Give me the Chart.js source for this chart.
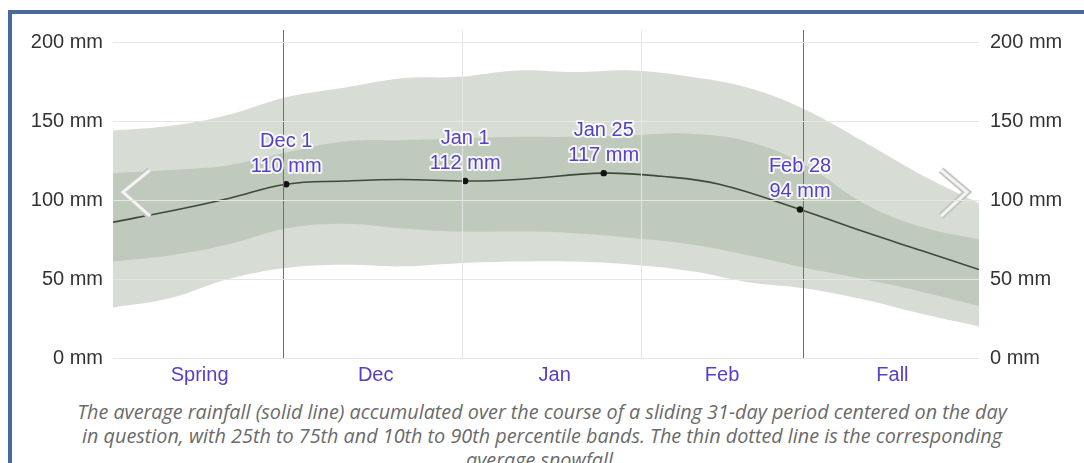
<!DOCTYPE html>
<html>
<head>
<meta charset="utf-8">
<script src="https://cdn.jsdelivr.net/npm/chart.js@4"></script>
<style>
    body{margin:0;background:#fff;width:1084px;height:463px;overflow:hidden;position:relative;}
    .frame{position:absolute;left:8px;top:10px;width:1090px;height:470px;border-left:4px solid #4a6a9b;border-top:4px solid #4a6a9b;}
    .chart-box{position:absolute;left:0;top:0;width:1084px;height:395px;}
    .caption{position:absolute;left:0;top:400px;width:1084px;text-align:center;font-family:"Open Sans",sans-serif;font-style:italic;font-size:19.8px;line-height:24px;color:#6a6a6a;white-space:nowrap;}
</style>
</head>
<body>
<div class="frame"></div>
<div class="chart-box"><canvas id="rainChart"></canvas></div>
<div class="caption">The average rainfall (solid line) accumulated over the course of a sliding 31-day period centered on the day<br>in question, with 25th to 75th and 10th to 90th percentile bands. The thin dotted line is the corresponding<br>average snowfall.</div>
<script>
    // 日数 (Nov 1 = 0)
    var days = [0,10,20,30,40,50,60,70,80,90,100,110,120,130,140,150];
    var p90 = [144,147,154,165,171,177,178,182,181,182,178,171,157,137,116,98];
    var p75 = [117,119,122,130,137,138,139,140,140,141,142,137,122,98,83,75];
    var p25 = [61,65,72,82,85,82,80,80,79,76,72,65,57,50,42,33];
    var p10 = [32,38,50,57,59,58,60,61,61,59,55,48,44,37,28,20];

    var meanDays = [0,10,20,30,40,50,61,70,85,95,105,119,130,140,150];
    var meanMm = [86,93,101,110,112,113,112,113,117,115,110,94,80,68,56];

    var markDays = [30,61,85,119];
    var markNames = ['Dec 1','Jan 1','Jan 25','Feb 28'];
    var markMm = [110,112,117,94];

    var seasonDays = [15,45.5,76.5,105.5,135];
    var seasonNames = ['Spring','Dec','Jan','Feb','Fall'];
    var seasonEdges = [29.5,119.5];
    var monthEdges = [60.5,91.5];
    var mmTicks = [0,50,100,150,200];

    function pts(xs, ys){
        var out = [];
        for(var i=0;i<xs.length;i++){ out.push({x:xs[i], y:ys[i]}); }
        return out;
    }

    var purple = '#5540c6';
    var font = '"Liberation Sans", Arial, sans-serif';

    /*****縦線とラベル*****/
    var decoPlugin = {
        id:'deco',
        afterDatasetsDraw:function(chart){
            var ctx = chart.ctx, xs = chart.scales.x, ys = chart.scales.y, a = chart.chartArea;
            ctx.save();
            ctx.lineWidth = 1;
            ctx.strokeStyle = '#e3e6e2';
            monthEdges.forEach(function(d){
                var px = Math.round(xs.getPixelForValue(d))+0.5;
                ctx.beginPath(); ctx.moveTo(px, a.top-12); ctx.lineTo(px, a.bottom); ctx.stroke();
            });
            ctx.strokeStyle = '#6f6f6f';
            seasonEdges.forEach(function(d){
                var px = Math.round(xs.getPixelForValue(d))+0.5;
                ctx.beginPath(); ctx.moveTo(px, a.top-12); ctx.lineTo(px, a.bottom); ctx.stroke();
            });
            // chevrons
            var midY = ys.getPixelForValue(105);
            function chevron(x0, x1){
                ctx.lineJoin = 'miter';
                ctx.beginPath(); ctx.moveTo(x1, midY-22); ctx.lineTo(x0, midY); ctx.lineTo(x1, midY+24);
                ctx.strokeStyle = '#c4c7c3'; ctx.lineWidth = 7; ctx.stroke();
                ctx.strokeStyle = '#f4f5f3'; ctx.lineWidth = 3; ctx.stroke();
            }
            chevron(a.left+10, a.left+37);
            chevron(a.right-12, a.right-38);
            ctx.restore();
        },
        afterDraw:function(chart){
            var ctx = chart.ctx, xs = chart.scales.x, ys = chart.scales.y;
            ctx.save();
            ctx.font = '20px ' + font;
            ctx.textAlign = 'center';
            ctx.textBaseline = 'middle';
            ctx.lineJoin = 'round';
            for(var i=0;i<markDays.length;i++){
                var px = xs.getPixelForValue(markDays[i]);
                var py = ys.getPixelForValue(markMm[i]);
                var l1 = markNames[i], l2 = markMm[i] + ' mm';
                ctx.strokeStyle = 'rgba(255,255,255,0.85)';
                ctx.lineWidth = 4;
                ctx.strokeText(l1, px, py-43);
                ctx.strokeText(l2, px, py-18);
                ctx.fillStyle = purple;
                ctx.fillText(l1, px, py-43);
                ctx.fillText(l2, px, py-18);
            }
            ctx.restore();
        }
    };

    var ctx = document.getElementById('rainChart');
    var rainChart = new Chart(ctx, {
        type:'line',
        data:{
            datasets:[
                {data:pts(markDays, markMm), showLine:false, pointRadius:3.2, pointBackgroundColor:'#111', pointBorderWidth:0},
                {data:pts(meanDays, meanMm), borderColor:'#3c4b39', borderWidth:1.6, pointRadius:0, tension:0.4, fill:false},
                {data:pts(days, p75), borderWidth:0, pointRadius:0, tension:0.4, fill:3, backgroundColor:'#bfc9bc'},
                {data:pts(days, p25), borderWidth:0, pointRadius:0, tension:0.4, fill:false},
                {data:pts(days, p90), borderWidth:0, pointRadius:0, tension:0.4, fill:5, backgroundColor:'#d7ddd4'},
                {data:pts(days, p10), borderWidth:0, pointRadius:0, tension:0.4, fill:false}
            ]
        },
        options:{
            responsive:true,
            maintainAspectRatio:false,
            animation:false,
            layout:{padding:{top:42}},
            plugins:{legend:{display:false}, tooltip:{enabled:false}},
            scales:{
                x:{
                    type:'linear', min:0, max:150,
                    grid:{display:false, drawTicks:false}, border:{display:false},
                    afterBuildTicks:function(s){ s.ticks = seasonDays.map(function(v){ return {value:v}; }); },
                    afterFit:function(s){ s.height = 37; },
                    ticks:{
                        autoSkip:false, maxRotation:0, padding:5, color:purple,
                        font:{family:font, size:20},
                        callback:function(v, i){ return seasonNames[i]; }
                    }
                },
                y:{
                    position:'left', min:0, max:200,
                    afterBuildTicks:function(s){ s.ticks = mmTicks.map(function(v){ return {value:v}; }); },
                    afterFit:function(s){ s.width = 113; },
                    border:{display:false},
                    grid:{color:'#e4e7e3', drawTicks:false, z:1},
                    ticks:{padding:10, color:'#333', font:{family:font, size:20}, callback:function(v){ return v + ' mm'; }}
                },
                y2:{
                    position:'right', min:0, max:200,
                    afterBuildTicks:function(s){ s.ticks = mmTicks.map(function(v){ return {value:v}; }); },
                    afterFit:function(s){ s.width = 105; },
                    border:{display:false},
                    grid:{display:false, drawTicks:false},
                    ticks:{padding:11, color:'#333', font:{family:font, size:20}, callback:function(v){ return v + ' mm'; }}
                }
            }
        },
        plugins:[decoPlugin]
    });
</script>
</body>
</html>
